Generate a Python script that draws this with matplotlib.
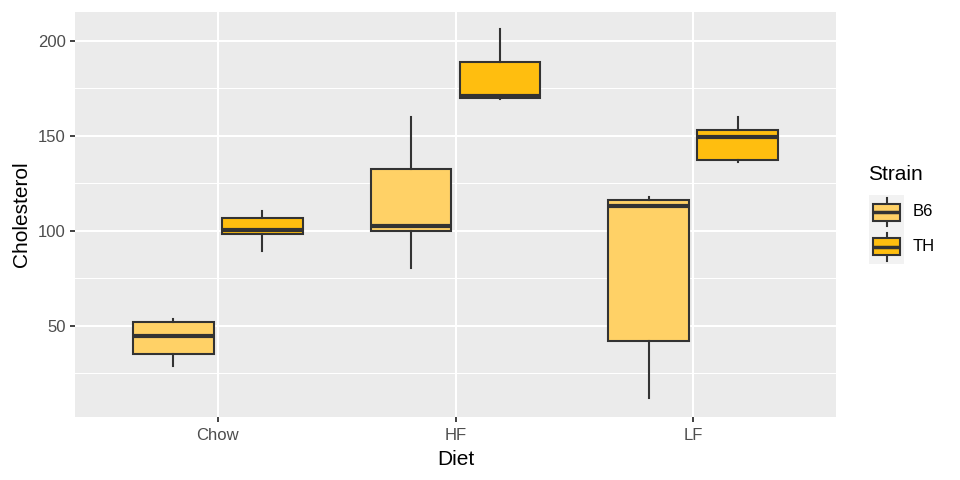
import matplotlib.pyplot as plt
from matplotlib.patches import Rectangle

plt.rcParams['font.family'] = ['Liberation Sans', 'DejaVu Sans']

diets = ["Chow", "HF", "LF"]
strains = ["B6", "TH"]
colors = {"B6": "#FFD166", "TH": "#FFBE0F"}

# per strain, per diet: low whisker, Q1, median, Q3, high whisker
b6_low = [28.6, 80.4, 11.8]
b6_q1 = [35.3, 99.8, 41.8]
b6_med = [44.4, 102.5, 113.0]
b6_q3 = [51.8, 132.5, 116.0]
b6_high = [53.5, 159.8, 117.6]

th_low = [89.5, 169.5, 136.2]
th_q1 = [98.1, 169.8, 137.2]
th_med = [100.4, 170.9, 149.3]
th_q3 = [106.6, 188.8, 153.0]
th_high = [110.5, 206.2, 159.8]

stats = {
    "B6": (b6_low, b6_q1, b6_med, b6_q3, b6_high),
    "TH": (th_low, th_q1, th_med, th_q3, th_high),
}

fig = plt.figure(figsize=(9.6, 4.8), dpi=100)
ax = fig.add_axes([75 / 960, 1 - 417 / 480, 761 / 960, 405 / 480])
ax.set_facecolor("#EBEBEB")

offsets = {"B6": -0.187, "TH": 0.187}
width = 0.34
for s in strains:
    low, q1, med, q3, high = stats[s]
    bx = []
    for i in range(len(diets)):
        bx.append(dict(whislo=low[i], q1=q1[i], med=med[i], q3=q3[i],
                       whishi=high[i], fliers=[]))
    pos = [i + offsets[s] for i in range(len(diets))]
    ax.bxp(bx, positions=pos, widths=width, patch_artist=True,
           showcaps=False, showfliers=False,
           boxprops=dict(facecolor=colors[s], edgecolor="#333333", linewidth=1.5),
           whiskerprops=dict(color="#333333", linewidth=1.5),
           medianprops=dict(color="#333333", linewidth=3, solid_capstyle="butt"),
           manage_ticks=False, zorder=3)

ax.set_xlim(-0.6, 2.6)
ax.set_ylim(2.0, 215.1)
ax.set_xticks(range(len(diets)))
ax.set_xticklabels(diets)
ax.set_yticks([50, 100, 150, 200])
ax.set_yticks([25, 75, 125, 175], minor=True)
ax.grid(True, which="major", color="white", linewidth=1.5, zorder=0)
ax.grid(True, which="minor", axis="y", color="white", linewidth=0.75, zorder=0)
ax.set_axisbelow(True)
for sp in ax.spines.values():
    sp.set_visible(False)
ax.tick_params(which="major", length=3.5, width=1.3, color="#333333",
               labelsize=12, labelcolor="#4D4D4D", pad=3)
ax.tick_params(axis="x", which="major", pad=4.5)
ax.tick_params(which="minor", length=0)
ax.set_xlabel("Diet", fontsize=15, labelpad=5)
ax.set_ylabel("Cholesterol", fontsize=15, labelpad=5)

# legend drawn like ggplot keys
fig.text(868 / 960, 1 - 175 / 480, "Strain", fontsize=15, va="center", ha="left")
lax = fig.add_axes([869 / 960, 1 - 264 / 480, 35 / 960, 69 / 480])
lax.set_xlim(0, 1)
lax.set_ylim(0, 2)
lax.axis("off")
for k, s in enumerate(strains):
    y0 = 1 - k
    lax.add_patch(Rectangle((0, y0), 1, 1, facecolor="#F2F2F2", edgecolor="none"))
    lax.plot([0.5, 0.5], [y0 + 0.1, y0 + 0.9], color="#333333", linewidth=1.5)
    lax.add_patch(Rectangle((0.12, y0 + 0.25), 0.76, 0.5, facecolor=colors[s],
                            edgecolor="#333333", linewidth=1.5, zorder=3))
    lax.plot([0.12, 0.88], [y0 + 0.5, y0 + 0.5], color="#333333", linewidth=2.5,
             solid_capstyle="butt", zorder=4)
    fig.text(913 / 960, 1 - (212 + 35 * k) / 480, s, fontsize=12, va="center", ha="left")

fig.savefig("out.png", dpi=100)
